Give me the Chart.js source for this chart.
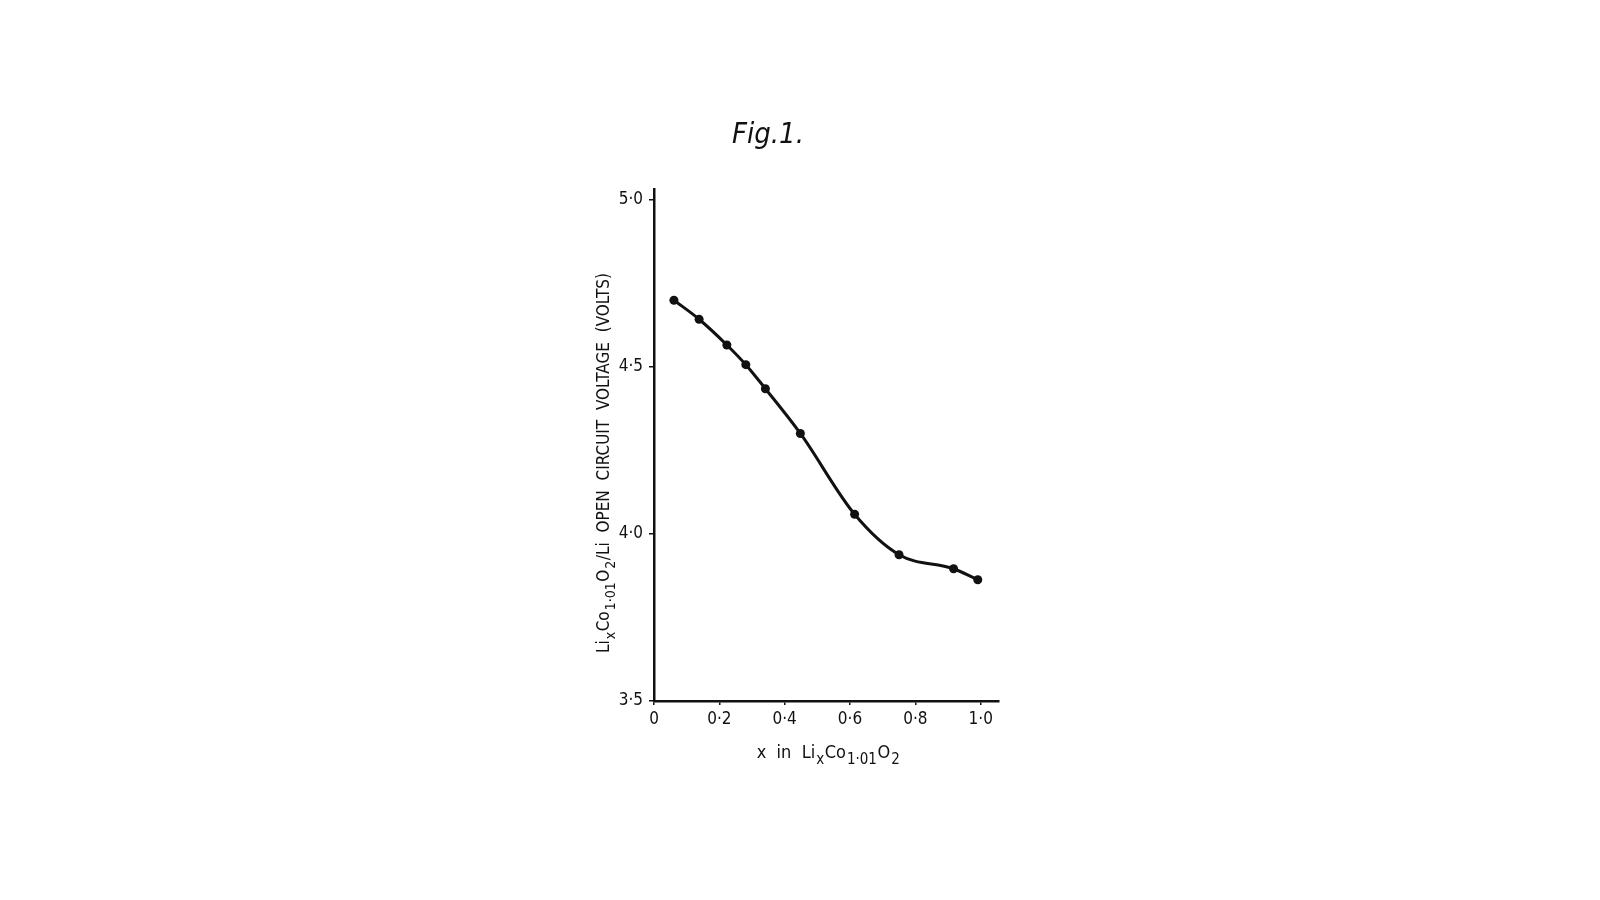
<!DOCTYPE html>
<html>
<head>
<meta charset="utf-8">
<script src="https://cdn.jsdelivr.net/npm/chart.js@4.4.0/dist/chart.umd.min.js"></script>
<style>
  html, body { margin: 0; padding: 0; background: #ffffff; }
  #wrap { width: 1600px; height: 900px; }
</style>
</head>
<body>
<div id="wrap"><canvas id="c" width="1600" height="900"></canvas></div>
<script>
// ---- data ----
const xValues = [0.061, 0.138, 0.223, 0.281, 0.341, 0.448, 0.614, 0.750, 0.917, 0.991];
const voltage = [4.700, 4.643, 4.566, 4.507, 4.435, 4.301, 4.059, 3.938, 3.896, 3.863];
const xTickValues = [0, 0.2, 0.4, 0.6, 0.8, 1.0];
const xTickLabels = ["0", "0\u00b72", "0\u00b74", "0\u00b76", "0\u00b78", "1\u00b70"];
const yTickValues = [3.5, 4.0, 4.5, 5.0];
const yTickLabels = ["3\u00b75", "4\u00b70", "4\u00b75", "5\u00b70"];
const titleText = "Fig.1.";
const xTitleParts = [["x  in  Li", 0], ["x", 1], ["Co", 0], ["1\u00b701", 1], ["O", 0], ["2", 1]];
const yTitleParts = [["Li", 0], ["x", 1], ["Co", 0], ["1\u00b701", 1], ["O", 0], ["2", 1], ["/Li  OPEN  CIRCUIT  VOLTAGE  (VOLTS)", 0]];

const FONT = "'DejaVu Sans Condensed', 'DejaVu Sans', sans-serif";
const INK = "#111111";

function drawRich(ctx, parts, size, subSize, subDrop) {
  let w = 0;
  const ws = parts.map(p => {
    ctx.font = (p[1] ? subSize : size) + "px " + FONT;
    const m = ctx.measureText(p[0]).width + (p[1] ? 1.5 : 0);
    w += m;
    return m;
  });
  let x = -w / 2;
  parts.forEach((p, i) => {
    ctx.font = (p[1] ? subSize : size) + "px " + FONT;
    ctx.fillText(p[0], x + (p[1] ? 1 : 0), p[1] ? subDrop : 0);
    x += ws[i];
  });
}

const textPlugin = {
  id: 'textPlugin',
  afterDraw(chart) {
    const ctx = chart.ctx;
    const ca = chart.chartArea;
    ctx.save();
    ctx.fillStyle = INK;
    ctx.textBaseline = 'alphabetic';
    ctx.textAlign = 'left';
    ctx.save();
    ctx.font = "italic 29px " + FONT;
    ctx.textAlign = 'center';
    ctx.fillText(titleText, 768, 143);
    ctx.restore();
    ctx.save();
    ctx.translate((ca.left + ca.right) / 2 + 2, 758);
    drawRich(ctx, xTitleParts, 18, 15, 6);
    ctx.restore();
    ctx.save();
    ctx.translate(609, 463);
    ctx.rotate(-Math.PI / 2);
    drawRich(ctx, yTitleParts, 17, 14, 6);
    ctx.restore();
    ctx.restore();
  }
};

const bgPlugin = {
  id: 'bg',
  beforeDraw(chart) {
    const ctx = chart.ctx;
    ctx.save();
    ctx.fillStyle = '#ffffff';
    ctx.fillRect(0, 0, chart.width, chart.height);
    ctx.restore();
  }
};

const points = xValues.map((x, i) => ({ x: x, y: voltage[i] }));

new Chart(document.getElementById('c'), {
  type: 'line',
  data: {
    datasets: [{
      data: points,
      borderColor: INK,
      backgroundColor: INK,
      borderWidth: 3,
      pointRadius: 4.5,
      pointBackgroundColor: INK,
      pointBorderWidth: 0,
      cubicInterpolationMode: 'monotone',
      fill: false
    }]
  },
  options: {
    responsive: false,
    devicePixelRatio: 1,
    animation: false,
    layout: { padding: { left: 554, right: 601, top: 189, bottom: 139 } },
    plugins: { legend: { display: false }, tooltip: { enabled: false }, title: { display: false } },
    scales: {
      x: {
        type: 'linear',
        min: 0,
        max: 1.056,
        afterFit(s) { s.height = 60; },
        afterBuildTicks(s) { s.ticks = xTickValues.map(v => ({ value: v })); },
        border: { display: true, color: INK, width: 2.5 },
        grid: { display: true, drawOnChartArea: false, drawTicks: true, tickLength: 4, color: INK, lineWidth: 1.5 },
        ticks: {
          padding: 4,
          color: INK,
          font: { family: FONT, size: 17 },
          maxRotation: 0,
          autoSkip: false,
          callback(v) { const i = xTickValues.findIndex(t => Math.abs(t - v) < 1e-6); return i >= 0 ? xTickLabels[i] : ''; }
        }
      },
      y: {
        type: 'linear',
        min: 3.5,
        max: 5.033,
        afterFit(s) { s.width = 100; },
        afterBuildTicks(s) { s.ticks = yTickValues.map(v => ({ value: v })); },
        border: { display: true, color: INK, width: 2.5 },
        grid: { display: true, drawOnChartArea: false, drawTicks: true, tickLength: 5, color: INK, lineWidth: 1.5 },
        ticks: {
          padding: 6,
          color: INK,
          font: { family: FONT, size: 17 },
          autoSkip: false,
          callback(v) { const i = yTickValues.findIndex(t => Math.abs(t - v) < 1e-6); return i >= 0 ? yTickLabels[i] : ''; }
        }
      }
    }
  },
  plugins: [bgPlugin, textPlugin]
});
</script>
</body>
</html>
